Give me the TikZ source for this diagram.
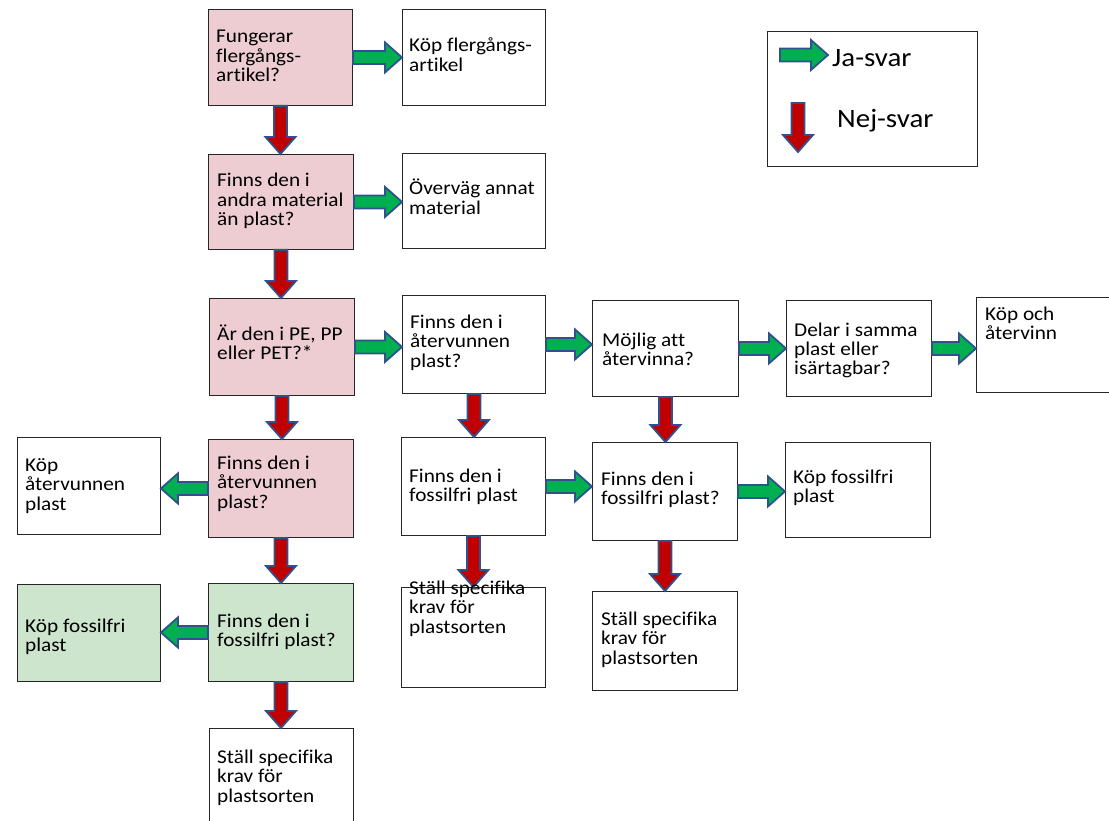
\documentclass[tikz,border=0pt]{standalone}
\usepackage{fontspec}
\setmainfont{Carlito}[FakeStretch=1.09, Ligatures=NoCommon]
\usetikzlibrary{calc}

\definecolor{rosa}{RGB}{237,204,210}
\definecolor{ljusgron}{RGB}{206,229,205}
\definecolor{jagron}{RGB}{0,176,80}
\definecolor{nejrod}{RGB}{192,0,0}
\definecolor{pilkant}{RGB}{47,82,143}

\newcommand{\rader}[1]{\parbox[t]{160pt}{\raggedright #1}}
\newcommand{\blockpil}[3]{%
  \coordinate (pa) at (#2);
  \coordinate (pb) at (#3);
  \coordinate (ph) at ($(pb)!17pt!(pa)$);
  \draw[pilstil, fill=#1] ($(pa)!6.5pt!90:(pb)$) -- ($(ph)!6.5pt!90:(pb)$)
    -- ($(ph)!15pt!90:(pb)$) -- (pb) -- ($(ph)!15pt!-90:(pb)$)
    -- ($(ph)!6.5pt!-90:(pb)$) -- ($(pa)!6.5pt!-90:(pb)$) -- cycle;}

\begin{document}
\begin{tikzpicture}[x=1pt, y=-1pt,
    ruta/.style={draw=black!85, line width=0.9pt, anchor=north west, inner sep=0pt},
    txt/.style={anchor=base west, inner sep=0pt, font=\fontsize{19.5}{19.5}\selectfont},
    stortxt/.style={anchor=base west, inner sep=0pt, font=\fontsize{26.5}{28}\selectfont},
    pilstil/.style={draw=pilkant, line width=1.8pt, line join=miter}]
  \useasboundingbox (0,0) rectangle (1109,821);

  \node[ruta, fill=rosa, minimum width=144pt, minimum height=96pt] (fraga1) at (208,9) {};
  \node[ruta, minimum width=143pt, minimum height=96pt] (flergang) at (402,9) {};
  \node[ruta, fill=rosa, minimum width=145pt, minimum height=95pt] (fraga2) at (208,154) {};
  \node[ruta, minimum width=143pt, minimum height=95pt] (annat) at (402,153) {};
  \node[ruta, fill=rosa, minimum width=145pt, minimum height=97pt] (fraga3) at (209,298) {};
  \node[ruta, minimum width=143pt, minimum height=98pt] (atervunnen1) at (402,295) {};
  \node[ruta, minimum width=146pt, minimum height=96pt] (mojlig) at (592,300) {};
  \node[ruta, minimum width=145pt, minimum height=96pt] (delar) at (786,300) {};
  \node[ruta, minimum width=150pt, minimum height=95pt] (kopatervinn) at (976,297) {};
  \node[ruta, fill=rosa, minimum width=145pt, minimum height=98pt] (fraga4) at (208,439) {};
  \node[ruta, minimum width=143pt, minimum height=97pt] (kopatervunnen) at (17,437) {};
  \node[ruta, minimum width=144pt, minimum height=98pt] (fossil1) at (401,437) {};
  \node[ruta, minimum width=145pt, minimum height=98pt] (fossil2) at (592,442) {};
  \node[ruta, minimum width=145pt, minimum height=95pt] (kopfossil2) at (785,442) {};
  \node[ruta, fill=ljusgron, minimum width=145pt, minimum height=98pt] (fraga5) at (208,583) {};
  \node[ruta, fill=ljusgron, minimum width=143pt, minimum height=97pt] (kopfossil1) at (17,584) {};
  \node[ruta, minimum width=144pt, minimum height=100pt] (krav2) at (401,587) {};
  \node[ruta, minimum width=145pt, minimum height=99pt] (krav3) at (592,591) {};
  \node[ruta, minimum width=144pt, minimum height=110pt] (krav1) at (209,728) {};
  \node[ruta, minimum width=210pt, minimum height=135pt] (forklaring) at (767,31) {};

  \blockpil{jagron}{fraga1.east}{fraga1.east -| flergang.west}
  \blockpil{jagron}{fraga2.east}{fraga2.east -| annat.west}
  \blockpil{jagron}{fraga3.east}{fraga3.east -| atervunnen1.west}
  \blockpil{jagron}{atervunnen1.east}{atervunnen1.east -| mojlig.west}
  \blockpil{jagron}{mojlig.east}{mojlig.east -| delar.west}
  \blockpil{jagron}{delar.east}{delar.east -| kopatervinn.west}
  \blockpil{jagron}{fraga4.west}{fraga4.west -| kopatervunnen.east}
  \blockpil{jagron}{fraga5.west}{fraga5.west -| kopfossil1.east}
  \blockpil{jagron}{fossil1.east}{fossil1.east -| fossil2.west}
  \blockpil{jagron}{fossil2.east}{fossil2.east -| kopfossil2.west}
  \blockpil{nejrod}{fraga1.south}{fraga1.south |- fraga2.north}
  \blockpil{nejrod}{fraga2.south}{fraga2.south |- fraga3.north}
  \blockpil{nejrod}{fraga3.south}{fraga3.south |- fraga4.north}
  \blockpil{nejrod}{fraga4.south}{fraga4.south |- fraga5.north}
  \blockpil{nejrod}{fraga5.south}{fraga5.south |- krav1.north}
  \blockpil{nejrod}{atervunnen1.south}{atervunnen1.south |- fossil1.north}
  \blockpil{nejrod}{fossil1.south}{fossil1.south |- krav2.north}
  \blockpil{nejrod}{mojlig.south}{mojlig.south |- fossil2.north}
  \blockpil{nejrod}{fossil2.south}{fossil2.south |- krav3.north}

  \coordinate (jastart) at (780,55);
  \coordinate (jaslut) at (828,55);
  \coordinate (nejstart) at (798,103);
  \coordinate (nejslut) at (798,152);
  \blockpil{jagron}{jastart}{jaslut}
  \blockpil{nejrod}{nejstart}{nejslut}

  \node[txt] (fraga1txt) at (216,43) {\rader{Fungerar\\flergångs-\\artikel?}};
  \node[txt] (flergangtxt) at (409,52) {\rader{Köp flergångs-\\artikel}};
  \node[txt] (fraga2txt) at (217,187) {\rader{Finns den i\\andra material\\än plast?}};
  \node[txt] (annattxt) at (409,195) {\rader{Överväg annat\\material}};
  \node[txt] (fraga3txt) at (217,340) {\rader{Är den i PE, PP\\eller PET?*}};
  \node[txt] (atervunnen1txt) at (410,328) {\rader{Finns den i\\återvunnen\\plast?}};
  \node[txt] (mojligtxt) at (602,346) {\rader{Möjlig att\\återvinna?}};
  \node[txt] (delartxt) at (794,336) {\rader{Delar i samma\\plast eller\\isärtagbar?}};
  \node[txt] (kopatervinntxt) at (985,320) {\rader{Köp och\\återvinn}};
  \node[txt] (fraga4txt) at (217,469) {\rader{Finns den i\\återvunnen\\plast?}};
  \node[txt] (kopatervunnentxt) at (25,471) {\rader{Köp\\återvunnen\\plast}};
  \node[txt] (fossil1txt) at (409,482) {\rader{Finns den i\\fossilfri plast}};
  \node[txt] (fossil2txt) at (601,485) {\rader{Finns den i\\fossilfri plast?}};
  \node[txt] (kopfossil2txt) at (793,483) {\rader{Köp fossilfri\\plast}};
  \node[txt] (fraga5txt) at (217,627) {\rader{Finns den i\\fossilfri plast?}};
  \node[txt] (kopfossil1txt) at (25,632) {\rader{Köp fossilfri\\plast}};
  \node[txt] (krav2txt) at (409,594) {\rader{Ställ specifika\\krav för\\plastsorten}};
  \node[txt] (krav3txt) at (601,625) {\rader{Ställ specifika\\krav för\\plastsorten}};
  \node[txt] (krav1txt) at (217,763) {\rader{Ställ specifika\\krav för\\plastsorten}};
  \node[stortxt] (jatxt) at (832,67) {Ja-svar};
  \node[stortxt] (nejtxt) at (837,128) {Nej-svar};
\end{tikzpicture}
\end{document}
